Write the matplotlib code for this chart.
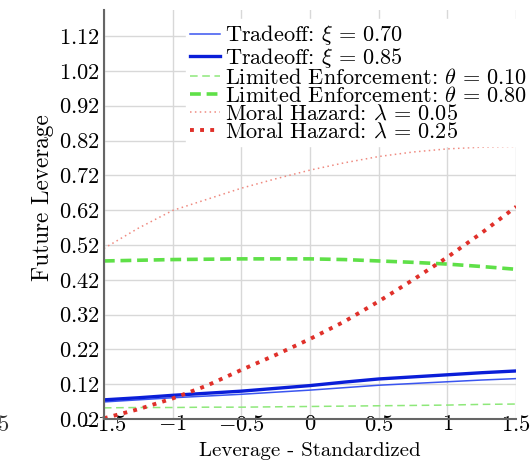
import numpy as np
import matplotlib
matplotlib.use("Agg")
import matplotlib.pyplot as plt
from matplotlib.ticker import FixedLocator, FixedFormatter

plt.rcParams.update({
    "font.family": "serif",
    "font.serif": ["cmr10"],
    "mathtext.fontset": "cm",
    "axes.unicode_minus": False,
})

# standardized leverage grid (read at quarter steps)
x = [-1.5, -1.25, -1.0, -0.75, -0.5, -0.25, 0.0, 0.25, 0.5, 0.75, 1.0, 1.25, 1.5]

tradeoff_070 = [0.069, 0.075, 0.081, 0.086, 0.091, 0.097, 0.103, 0.110, 0.117, 0.122, 0.127, 0.132, 0.136]
tradeoff_085 = [0.075, 0.081, 0.088, 0.094, 0.100, 0.108, 0.116, 0.126, 0.135, 0.141, 0.147, 0.153, 0.158]
le_010 = [0.052, 0.053, 0.053, 0.054, 0.054, 0.055, 0.056, 0.057, 0.058, 0.059, 0.060, 0.062, 0.063]
le_080 = [0.474, 0.476, 0.478, 0.479, 0.480, 0.480, 0.480, 0.478, 0.474, 0.470, 0.465, 0.458, 0.450]
mh_005 = [0.510, 0.568, 0.619, 0.651, 0.683, 0.710, 0.735, 0.756, 0.774, 0.787, 0.796, 0.801, 0.803]
mh_025 = [0.022, 0.048, 0.079, 0.116, 0.161, 0.204, 0.250, 0.300, 0.358, 0.420, 0.485, 0.555, 0.630]

yticks = [0.02, 0.12, 0.22, 0.32, 0.42, 0.52, 0.62, 0.72, 0.82, 0.92, 1.02, 1.12]
xticks = [-1.5, -1.0, -0.5, 0.0, 0.5, 1.0, 1.5]
xticklabels = ["$-1.5$", "$-1$", "$-0.5$", "$0$", "$0.5$", "$1$", "$1.5$"]

fig = plt.figure(figsize=(5.30, 4.68), dpi=100)
ax = fig.add_axes([0.196, 0.1047, 0.778, 0.874])

ax.plot(x, tradeoff_070, color="#3a55f0", lw=1.1, label=r"Tradeoff: $\xi\,=\,0.70$")
ax.plot(x, tradeoff_085, color="#0a1ed8", lw=2.4, label=r"Tradeoff: $\xi\,=\,0.85$")
ax.plot(x, le_010, color="#8ee87a", lw=1.1, ls=(0, (5, 3)),
        label=r"Limited Enforcement: $\theta\,=\,0.10$")
ax.plot(x, le_080, color="#5fe048", lw=2.6, ls=(0, (3, 1.6)),
        label=r"Limited Enforcement: $\theta\,=\,0.80$")
ax.plot(x, mh_005, color="#ef8a80", lw=1.1, ls=(0, (1, 2.2)),
        label=r"Moral Hazard: $\lambda\,=\,0.05$")
ax.plot(x, mh_025, color="#e0302a", lw=2.8, ls=(0, (1, 1.6)),
        label=r"Moral Hazard: $\lambda\,=\,0.25$")

ax.set_xlim(-1.5, 1.5)
ax.set_ylim(0.02, 1.195)
ax.xaxis.set_major_locator(FixedLocator(xticks))
ax.xaxis.set_major_formatter(FixedFormatter(xticklabels))
ax.yaxis.set_major_locator(FixedLocator(yticks))
ax.yaxis.set_major_formatter(FixedFormatter([f"${v:.2f}$" for v in yticks]))
ax.tick_params(length=0, labelsize=16.2)
ax.tick_params(axis="x", pad=-3)
ax.tick_params(axis="y", pad=3)

ax.grid(True, color="#d8d8d8", lw=1.0)
ax.set_axisbelow(True)
for side in ("top", "right"):
    ax.spines[side].set_visible(False)
for side in ("left", "bottom"):
    ax.spines[side].set_color("#666666")
    ax.spines[side].set_linewidth(1.5)

ax.set_xlabel("Leverage - Standardized", fontsize=15, labelpad=5)
ax.set_ylabel("Future Leverage", fontsize=16.8)
ax.yaxis.set_label_coords(-0.122, 0.54)

leg = ax.legend(loc="upper left", bbox_to_anchor=(0.199, 0.978), fontsize=16,
                frameon=True, facecolor="white", edgecolor="white", framealpha=1.0,
                handlelength=1.35, handletextpad=0.22, labelspacing=-0.08,
                borderpad=0.2, borderaxespad=0.0)

# clipped tick label from the neighbouring panel
fig.text(0.018, 0.092, "$1.5$", fontsize=16.2, ha="right", va="center", color="#333333")

fig.savefig("out.png", dpi=100)
